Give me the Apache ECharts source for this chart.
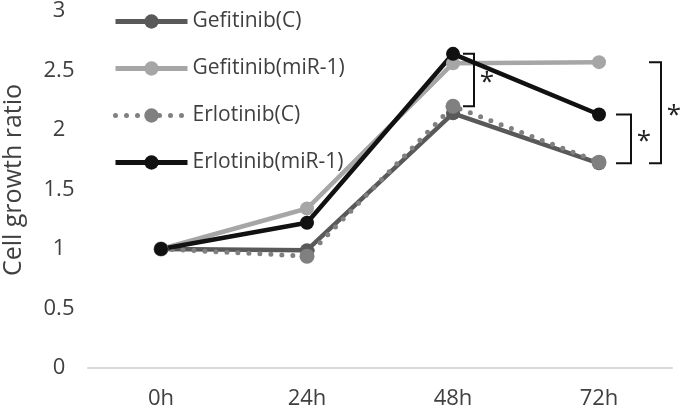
<!DOCTYPE html>
<html><head><meta charset="utf-8">
<script src="https://cdn.jsdelivr.net/npm/echarts@6/dist/echarts.min.js"></script>
<style>html,body{margin:0;padding:0;background:#fff}#c{width:683px;height:410px}</style>
</head><body><div id="c"></div>
<script>
var categories = ['0h', '24h', '48h', '72h'];
var gefitinibC = [1.0, 0.99, 2.14, 1.72];
var gefitinibMiR = [1.0, 1.34, 2.56, 2.57];
var erlotinibC = [1.0, 0.94, 2.2, 1.73];
var erlotinibMiR = [1.0, 1.22, 2.64, 2.13];
var seriesNames = ['Gefitinib(C)', 'Gefitinib(miR-1)', 'Erlotinib(C)', 'Erlotinib(miR-1)'];
var yAxisTitle = 'Cell growth ratio';
// significance brackets: [category index, top value, bottom value]
var brackets = [
  [2, 2.64, 2.2],
  [3, 2.13, 1.72],
  [3, 2.57, 1.72]
];
var bracketGeom = [[10, 11], [17, 15], [50, 12]];

var font = 'Open Sans';
var colors = ['#595959', '#a6a6a6', '#808080', '#111111'];
var chart = echarts.init(document.getElementById('c'));
function mk(i, data, dotted, size) {
  return {
    name: seriesNames[i], type: 'line', data: data,
    symbol: 'circle', symbolSize: size,
    itemStyle: {color: colors[i]},
    lineStyle: dotted ? {color: colors[i], width: 5, type: [0, 11], cap: 'round'} : {color: colors[i], width: 4.5},
    emphasis: {disabled: true}, animation: false
  };
}
chart.setOption({
  animation: false,
  grid: {left: 88, right: 11, top: 9, bottom: 41},
  legend: {
    orient: 'vertical', left: 113, top: 11, padding: 0, itemWidth: 72, itemHeight: 18, itemGap: 26,
    lineStyle: {width: 5},
    textStyle: {fontFamily: font, fontSize: 21, color: '#404040'},
    data: seriesNames
  },
  xAxis: {
    type: 'category', data: categories,
    axisLine: {lineStyle: {color: '#d9d9d9', width: 2}},
    axisTick: {show: false},
    axisLabel: {fontFamily: font, fontSize: 22, color: '#404040', margin: 20}
  },
  yAxis: {
    type: 'value', min: 0, max: 3, interval: 0.5,
    axisLine: {show: false}, axisTick: {show: false}, splitLine: {show: false},
    axisLabel: {fontFamily: font, fontSize: 22, color: '#404040', margin: 29, align: 'center'}
  },
  series: [
    mk(0, gefitinibC, false, 14),
    mk(1, gefitinibMiR, false, 14),
    mk(2, erlotinibC, true, 15),
    mk(3, erlotinibMiR, false, 14)
  ]
});
var g = [{
  type: 'text', x: 14, y: 180, rotation: Math.PI / 2,
  style: {text: yAxisTitle, font: '25px "Open Sans"', fill: '#404040', align: 'center', verticalAlign: 'middle'}
}];
brackets.forEach(function (b, k) {
  var p1 = chart.convertToPixel({gridIndex: 0}, [b[0], b[1]]);
  var p2 = chart.convertToPixel({gridIndex: 0}, [b[0], b[2]]);
  var x0 = p1[0] + bracketGeom[k][0], x1 = x0 + bracketGeom[k][1];
  g.push({type: 'polyline', shape: {points: [[x0, p1[1]], [x1, p1[1]], [x1, p2[1]], [x0, p2[1]]]},
    style: {stroke: '#111', lineWidth: 2, fill: null}, z: 100});
  g.push({type: 'text', x: x1 + 13, y: (p1[1] + p2[1]) / 2 + 3,
    style: {text: '*', font: '26px "Open Sans"', fill: '#222', align: 'center', verticalAlign: 'middle'}, z: 100});
});
chart.setOption({graphic: g});
</script></body></html>
